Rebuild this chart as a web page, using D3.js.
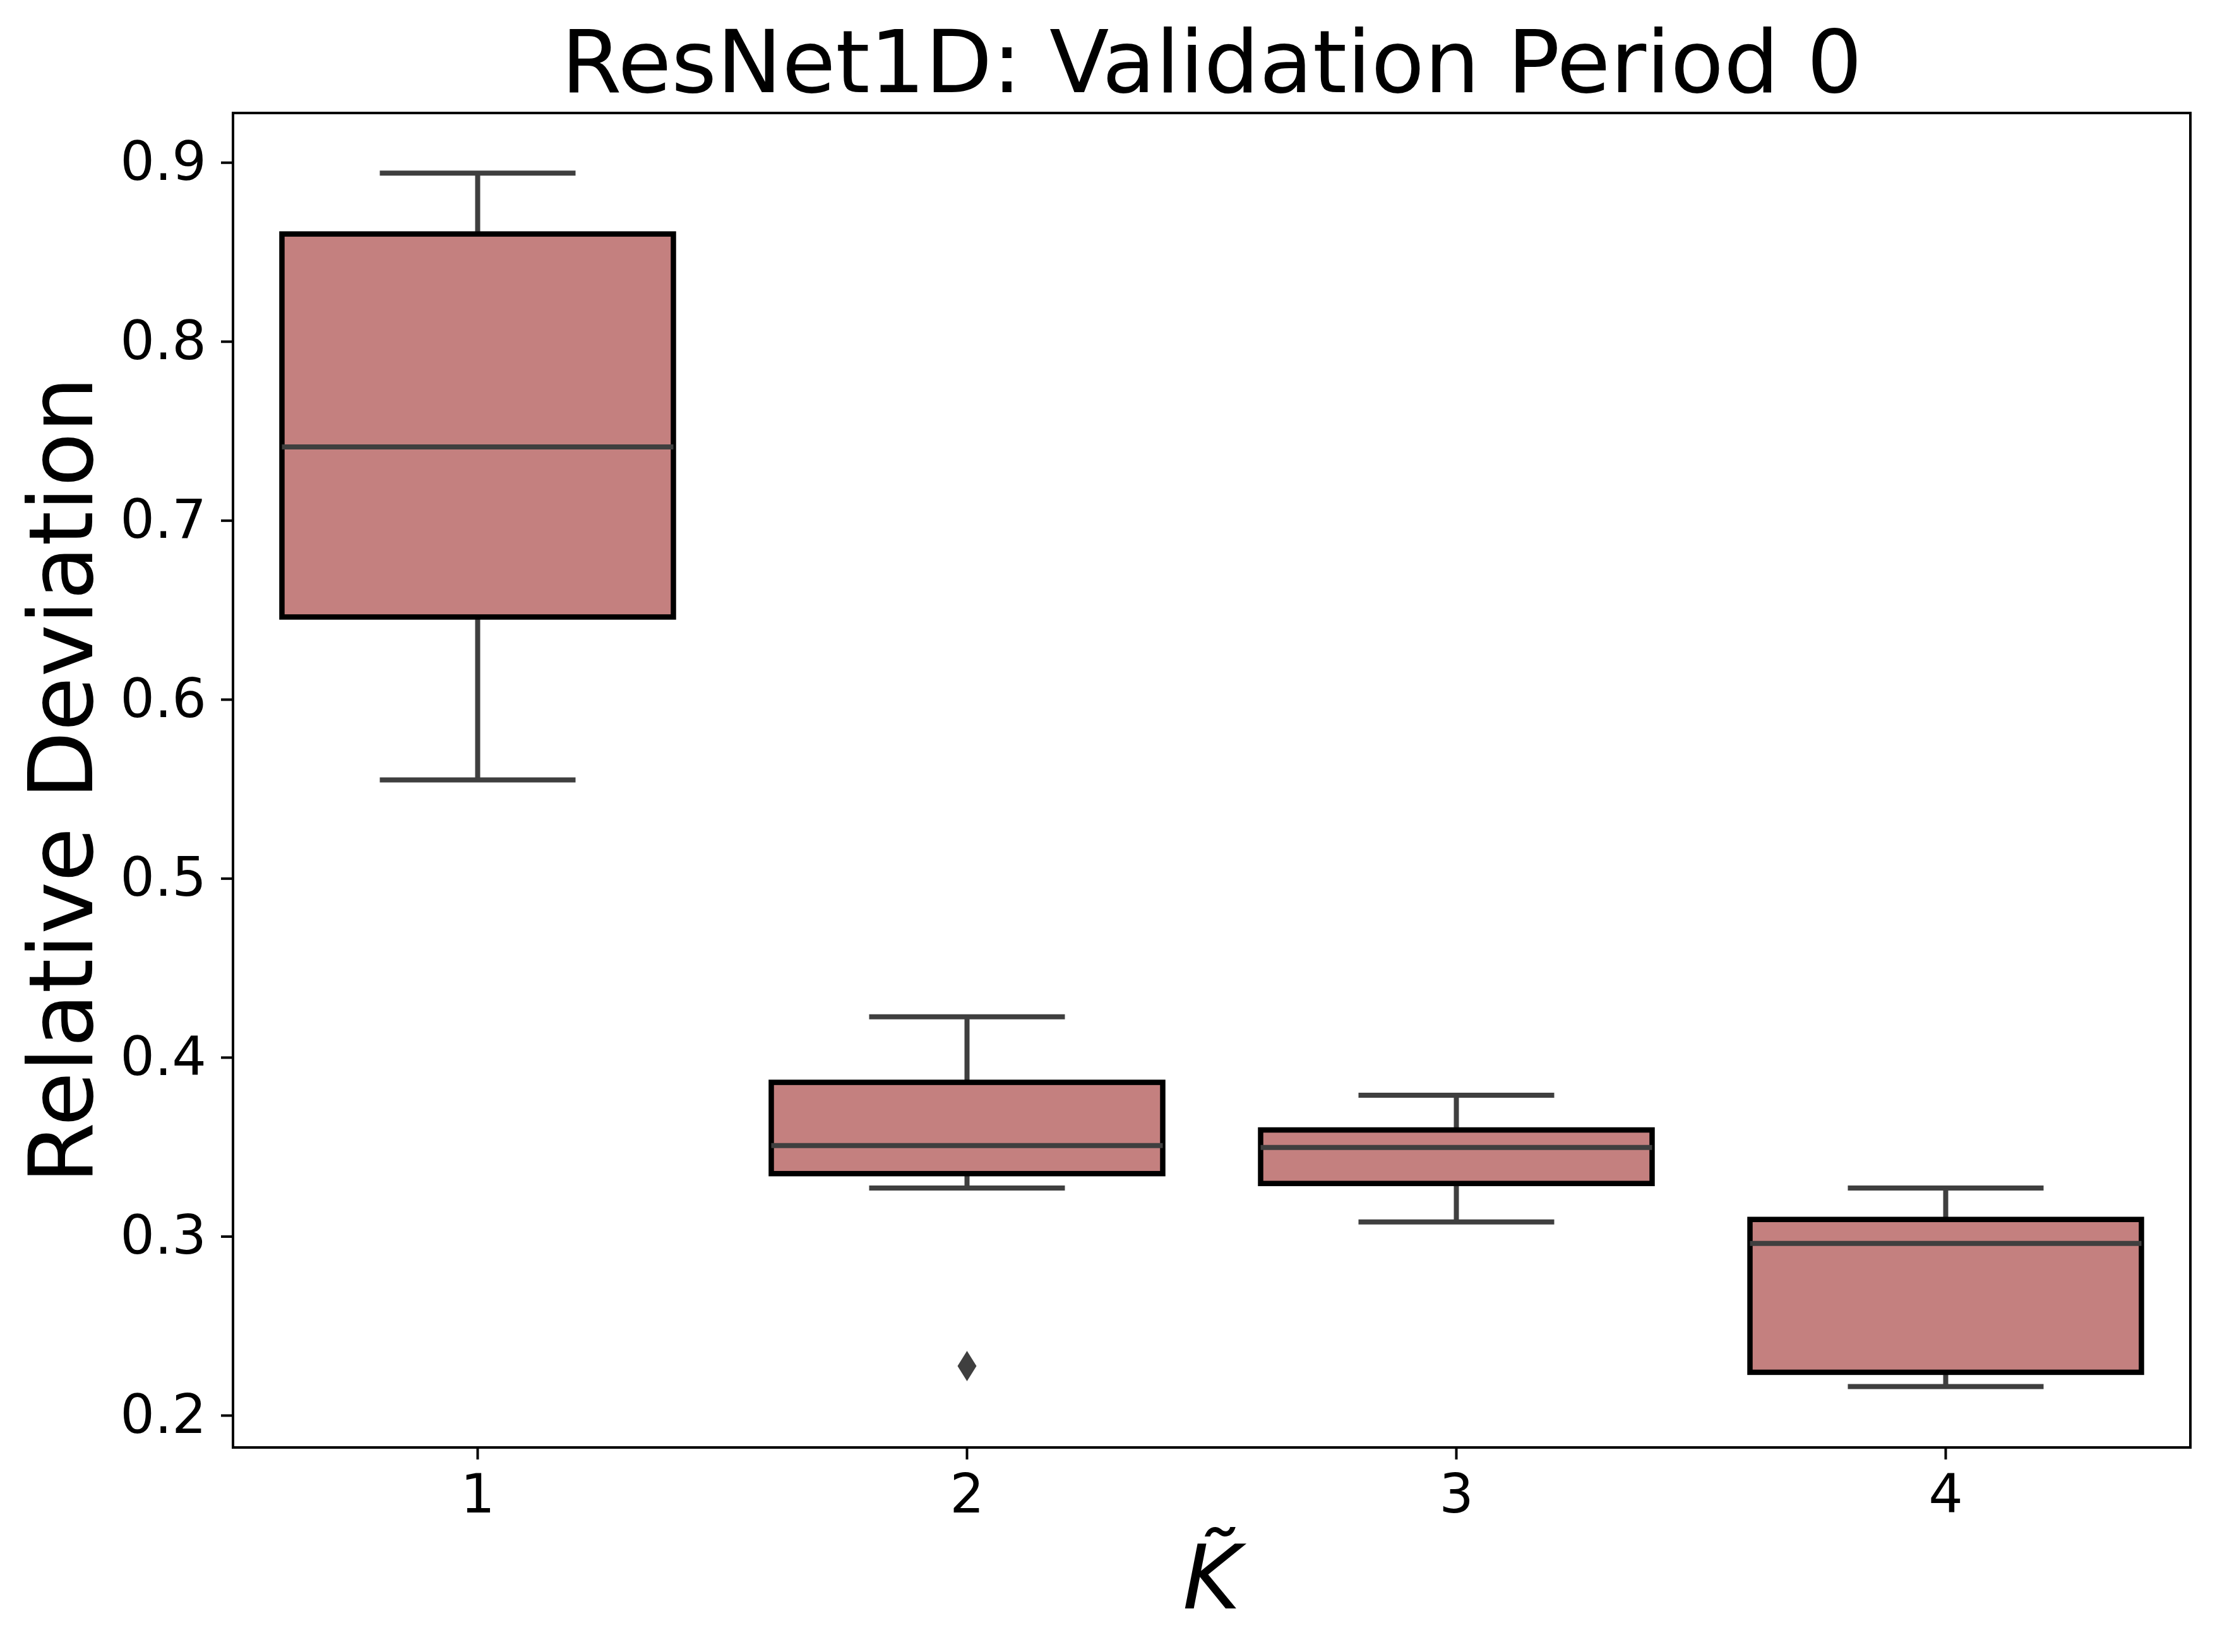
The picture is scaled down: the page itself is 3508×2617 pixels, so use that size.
<!DOCTYPE html>
<html>
<head>
<meta charset="utf-8">
<script src="https://cdn.jsdelivr.net/npm/d3@7"></script>
<style>
  body { margin: 0; background: #fff; }
  svg { display: block; font-family: "DejaVu Sans", sans-serif; }
</style>
</head>
<body>
<svg id="chart"></svg>
<script>
// values
const categories = ["1", "2", "3", "4"];
const whiskerLow = [0.555, 0.327, 0.308, 0.216];
const q1 = [0.646, 0.335, 0.3295, 0.224];
const median = [0.741, 0.3507, 0.3496, 0.296];
const q3 = [0.860, 0.386, 0.3594, 0.3094];
const whiskerHigh = [0.894, 0.4226, 0.3788, 0.327];
const outlierCats = ["2"];
const outlierValues = [0.2275];
const yTicks = [0.2, 0.3, 0.4, 0.5, 0.6, 0.7, 0.8, 0.9];

const width = 3508, height = 2617;
const margin = { top: 179, right: 39, bottom: 324, left: 369 };
const innerWidth = width - margin.left - margin.right;
const innerHeight = height - margin.top - margin.bottom;

const boxes = categories.map((c, i) => ({
  cat: c, lo: whiskerLow[i], q1: q1[i], med: median[i], q3: q3[i], hi: whiskerHigh[i],
}));
const outliers = outlierCats.map((c, i) => ({ cat: c, value: outlierValues[i] }));

const svg = d3.select("#chart").attr("width", width).attr("height", height);

const x = d3.scaleBand().domain(categories).range([0, innerWidth]).paddingInner(0).paddingOuter(0);
const y = d3.scaleLinear().domain([0.182, 0.9276]).range([innerHeight, 0]);

const boxW = x.bandwidth() * 0.8;
const capW = boxW / 2;
const cx = (d) => x(d) + x.bandwidth() / 2;

const g = svg.append("g").attr("transform", `translate(${margin.left},${margin.top})`);

const lineColor = "#3f3f3f";

const box = g.selectAll(".box").data(boxes).join("g").attr("class", "box");

// whiskers
box.append("line")
  .attr("x1", (d) => cx(d.cat)).attr("x2", (d) => cx(d.cat))
  .attr("y1", (d) => y(d.q3)).attr("y2", (d) => y(d.hi))
  .attr("stroke", lineColor).attr("stroke-width", 8);
box.append("line")
  .attr("x1", (d) => cx(d.cat)).attr("x2", (d) => cx(d.cat))
  .attr("y1", (d) => y(d.q1)).attr("y2", (d) => y(d.lo))
  .attr("stroke", lineColor).attr("stroke-width", 8);
// caps
box.append("line")
  .attr("x1", (d) => cx(d.cat) - capW / 2).attr("x2", (d) => cx(d.cat) + capW / 2)
  .attr("y1", (d) => y(d.hi)).attr("y2", (d) => y(d.hi))
  .attr("stroke", lineColor).attr("stroke-width", 8);
box.append("line")
  .attr("x1", (d) => cx(d.cat) - capW / 2).attr("x2", (d) => cx(d.cat) + capW / 2)
  .attr("y1", (d) => y(d.lo)).attr("y2", (d) => y(d.lo))
  .attr("stroke", lineColor).attr("stroke-width", 8);
// box
box.append("rect")
  .attr("x", (d) => cx(d.cat) - boxW / 2)
  .attr("y", (d) => y(d.q3))
  .attr("width", boxW)
  .attr("height", (d) => y(d.q1) - y(d.q3))
  .attr("fill", "#c4807f")
  .attr("stroke", "#000")
  .attr("stroke-width", 8.5);
// median
box.append("line")
  .attr("x1", (d) => cx(d.cat) - boxW / 2).attr("x2", (d) => cx(d.cat) + boxW / 2)
  .attr("y1", (d) => y(d.med)).attr("y2", (d) => y(d.med))
  .attr("stroke", lineColor).attr("stroke-width", 8);

// outliers (thin diamonds)
g.selectAll(".outlier").data(outliers).join("path")
  .attr("class", "outlier")
  .attr("transform", (d) => `translate(${cx(d.cat)},${y(d.value)})`)
  .attr("d", "M0,-24L15,0L0,24L-15,0Z")
  .attr("fill", lineColor);

// axes
const yAxis = g.append("g")
  .call(d3.axisLeft(y).tickValues(yTicks).tickFormat(d3.format(".1f")).tickSize(19).tickPadding(23));
const xAxis = g.append("g")
  .attr("transform", `translate(0,${innerHeight})`)
  .call(d3.axisBottom(x).tickSize(19).tickPadding(23));

[yAxis, xAxis].forEach((a) => {
  a.select(".domain").remove();
  a.selectAll(".tick line").attr("stroke", "#000").attr("stroke-width", 4);
  a.selectAll(".tick text").attr("fill", "#000").style("font-size", "86px")
    .style("font-family", "'DejaVu Sans', sans-serif");
});

// frame
g.append("rect")
  .attr("width", innerWidth).attr("height", innerHeight)
  .attr("fill", "none").attr("stroke", "#000").attr("stroke-width", 4);

// title and labels
svg.append("text")
  .attr("x", margin.left + innerWidth / 2).attr("y", 146)
  .attr("text-anchor", "middle")
  .style("font-size", "138px")
  .text("ResNet1D: Validation Period 0");

svg.append("text")
  .attr("transform", `translate(146,${margin.top + innerHeight / 2}) rotate(-90)`)
  .attr("text-anchor", "middle")
  .style("font-size", "140px")
  .text("Relative Deviation");

svg.append("text")
  .attr("x", margin.left + innerWidth / 2).attr("y", 2548)
  .attr("text-anchor", "middle")
  .style("font-size", "140px")
  .style("font-style", "italic")
  .text("K\u0303");
</script>
</body>
</html>
